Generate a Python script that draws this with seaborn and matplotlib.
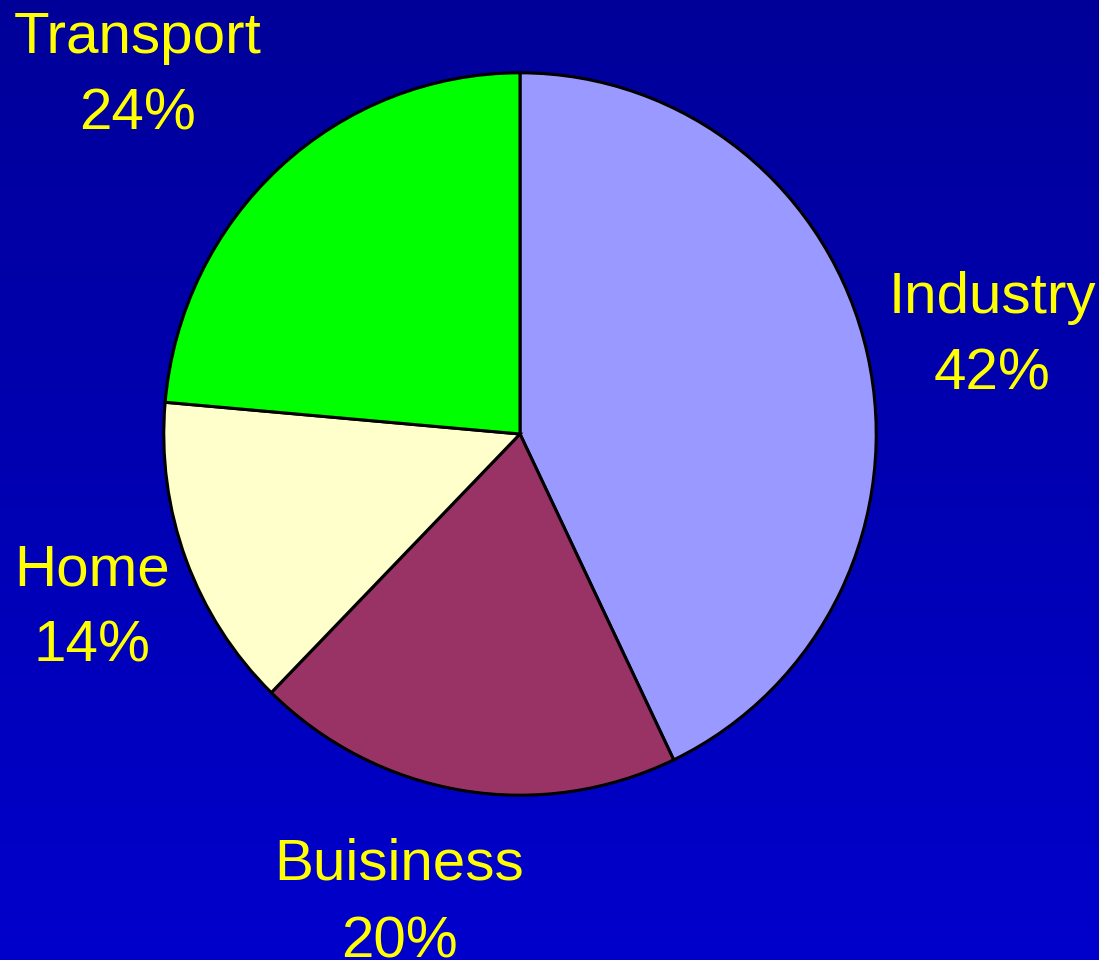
import numpy as np
import matplotlib
matplotlib.use("Agg")
import matplotlib.pyplot as plt
import seaborn as sns
from matplotlib.colors import LinearSegmentedColormap

# --- Data ---
sectors = ["Industry", "Buisiness", "Home", "Transport"]
pct_labels = ["42%", "20%", "14%", "24%"]
# slice sizes as drawn in the picture (labels are the printed, rounded figures)
slice_sizes = [42.9, 19.4, 14.1, 23.6]
slice_colors = ["#9999FF", "#993366", "#FFFFCC", "#00FF00"]

sns.set_theme(style="white")
plt.rcParams["font.family"] = ["Liberation Sans", "DejaVu Sans"]

W, H = 1099, 960
fig = plt.figure(figsize=(W / 100, H / 100), dpi=100)

# --- Background gradient (dark blue top -> brighter blue bottom) ---
bg = fig.add_axes([0, 0, 1, 1])
bg_cmap = LinearSegmentedColormap.from_list("bg", ["#000099", "#0000CC"])
grad = np.linspace(0, 1, 256).reshape(-1, 1)
bg.imshow(grad, aspect="auto", cmap=bg_cmap, extent=[0, 1, 0, 1], origin="upper")
bg.set_axis_off()

# --- Pie ---
cx, cy, rx, ry = 520, 434, 358, 363
ax = fig.add_axes([(cx - rx) / W, (H - cy - ry) / H, 2 * rx / W, 2 * ry / H])
ax.pie(slice_sizes, colors=slice_colors, startangle=90, counterclock=False,
       wedgeprops=dict(edgecolor="black", linewidth=2.2))
ax.set_aspect("auto")
ax.set_xlim(-1.005, 1.005)
ax.set_ylim(-1.005, 1.005)
ax.set_axis_off()

# --- Labels (name line and percent line, baseline pixel positions) ---
label_pos = {
    "Industry": (992, 313, 390),
    "Buisiness": (399, 880, 958),
    "Home": (92, 585, 662),
    "Transport": (138, 53, 130),
}
for name, pct in zip(sectors, pct_labels):
    x, y1, y2 = label_pos[name]
    for txt, y in [(name, y1), (pct, y2)]:
        fig.text(x / W, 1 - y / H, txt, color="#FFFF00", fontsize=42,
                 ha="center", va="baseline")

fig.savefig("out.png", dpi=100)
